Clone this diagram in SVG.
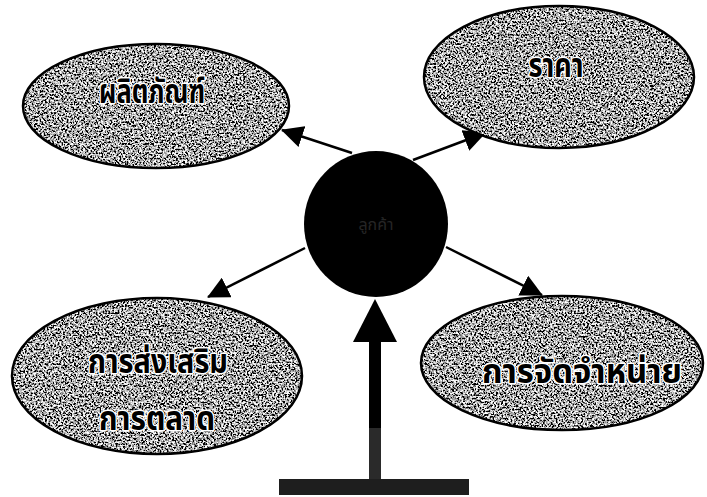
<svg xmlns="http://www.w3.org/2000/svg" width="707" height="497" viewBox="0 0 707 497">
<style>
.blob{filter:url(#grain);}
.rim{fill:none;stroke:#000;stroke-width:2.5;}
.lbl{font-family:"Noto Sans Thai","Noto Sans","DejaVu Sans",sans-serif;font-weight:bold;font-size:33px;fill:#000;stroke:#fff;stroke-width:3;paint-order:stroke;stroke-linejoin:round;text-anchor:middle;}
.con{stroke:#000;stroke-width:2.5;fill:none;marker-end:url(#ah);}
</style>
<defs>
<filter id="grain" x="0" y="0" width="100%" height="100%">
<feTurbulence type="fractalNoise" baseFrequency="0.55" numOctaves="3" seed="7" result="n"/>
<feColorMatrix in="n" type="matrix" values="3.6 0 0 0 -1.4  3.6 0 0 0 -1.4  3.6 0 0 0 -1.4  0 0 0 0 1" result="g"/>
<feComposite in="g" in2="SourceGraphic" operator="in"/>
</filter>
<marker id="ah" markerUnits="userSpaceOnUse" markerWidth="22" markerHeight="22" refX="21" refY="11" orient="auto" viewBox="0 0 22 22">
<path d="M0,0 L22,11 L0,22 z" fill="#000"/>
</marker>
</defs>
<rect width="707" height="497" fill="#fff"/>
<g id="connectors">
<line class="con" x1="352" y1="153" x2="282" y2="130"/>
<line class="con" x1="413" y1="160" x2="485" y2="133"/>
<line class="con" x1="305" y1="248" x2="208" y2="297"/>
<line class="con" x1="446" y1="247" x2="542" y2="295"/>
<g id="stand">
<rect x="369" y="338" width="12" height="92" fill="#000"/>
<rect x="369" y="428" width="12" height="54" fill="#2a2a2a"/>
<rect x="279" y="479" width="190" height="16" fill="#1e1e1e"/>
<polygon points="375,299 353,342 397,342" fill="#000"/>
</g>
</g>
<g id="product">
<ellipse class="blob" cx="156" cy="106" rx="133" ry="62" fill="#000"/>
<ellipse class="rim" cx="156" cy="106" rx="133" ry="62"/>
<text class="lbl" x="152" y="103" textLength="106" lengthAdjust="spacingAndGlyphs">ผลิตภัณฑ์</text>
</g>
<g id="price">
<ellipse class="blob" cx="559" cy="77" rx="135" ry="71" fill="#000"/>
<ellipse class="rim" cx="559" cy="77" rx="135" ry="71"/>
<text class="lbl" x="556" y="77" textLength="55" lengthAdjust="spacingAndGlyphs">ราคา</text>
</g>
<g id="promotion">
<ellipse class="blob" cx="157" cy="376" rx="145" ry="78" fill="#000"/>
<ellipse class="rim" cx="157" cy="376" rx="145" ry="78"/>
<text class="lbl" x="158" y="373" textLength="140" lengthAdjust="spacingAndGlyphs">การส่งเสริม</text>
<text class="lbl" x="157" y="430" textLength="116" lengthAdjust="spacingAndGlyphs">การตลาด</text>
</g>
<g id="place">
<ellipse class="blob" cx="562" cy="363" rx="141" ry="67" fill="#000"/>
<ellipse class="rim" cx="562" cy="363" rx="141" ry="67"/>
<text class="lbl" x="582" y="383" textLength="200" lengthAdjust="spacingAndGlyphs">การจัดจำหน่าย</text>
</g>
<g id="customer">
<ellipse cx="376" cy="224" rx="72" ry="73" fill="#000"/>
<text x="376" y="230" font-family="Noto Sans Thai, Noto Sans, DejaVu Sans, sans-serif" font-size="16" fill="#262626" text-anchor="middle">ลูกค้า</text>
</g>
</svg>
